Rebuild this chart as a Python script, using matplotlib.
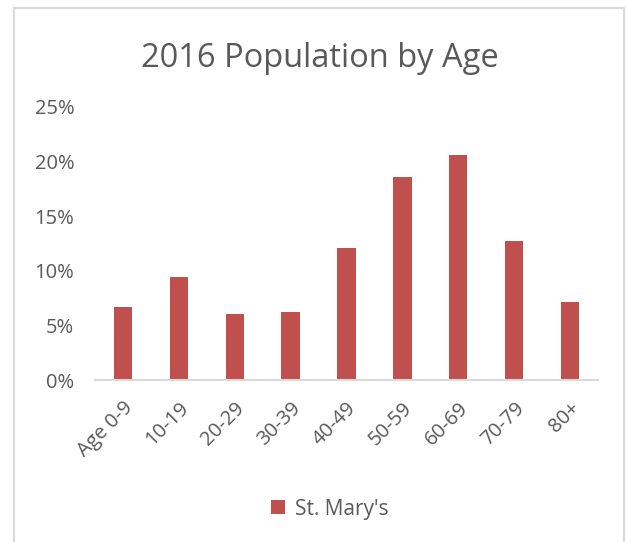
import matplotlib.pyplot as plt
from matplotlib.lines import Line2D
from matplotlib.ticker import PercentFormatter

# values (percent of population)
ages = ['Age 0-9', '10-19', '20-29', '30-39', '40-49', '50-59', '60-69', '70-79', '80+']
st_marys = [6.7, 9.4, 6.0, 6.2, 12.1, 18.6, 20.6, 12.7, 7.1]

bar_color = '#C0504D'
text_color = '#595959'

plt.rcParams['font.family'] = ['Open Sans', 'DejaVu Sans']

fig = plt.figure(figsize=(6.26, 5.42), dpi=100)
ax = fig.add_axes([95 / 626, 1 - 380 / 542, 503 / 626, 273 / 542])

ax.bar(range(len(ages)), st_marys, width=0.33, color=bar_color, label="St. Mary's")

ax.set_ylim(0, 25)
ax.set_xlim(-0.5, len(ages) - 0.5)
ax.set_yticks([0, 5, 10, 15, 20, 25])
ax.yaxis.set_major_formatter(PercentFormatter(decimals=0))
ax.set_xticks(range(len(ages)))
ax.set_xticklabels(ages, rotation=45, ha='right', rotation_mode='anchor')

ax.tick_params(axis='both', length=0, labelsize=14.5, colors=text_color)
ax.tick_params(axis='y', pad=15)
ax.tick_params(axis='x', pad=13)
for s in ['top', 'right', 'left']:
    ax.spines[s].set_visible(False)
ax.spines['bottom'].set_color('#D9D9D9')
ax.spines['bottom'].set_linewidth(1.5)

fig.text(320 / 626, 1 - 67 / 542, '2016 Population by Age', ha='center', va='baseline',
         fontsize=23.5, color=text_color)

fig.legend(loc='center', bbox_to_anchor=(330 / 626, 1 - 509 / 542), frameon=False,
           fontsize=15, labelcolor=text_color, handlelength=0.65, handleheight=0.65,
           handletextpad=0.5)

# chart border (bottom edge is cut off in the reference)
border = '#D9D9D9'
x0, x1 = 14 / 626, 624 / 626
y_top = 1 - 8 / 542
fig.add_artist(Line2D([x0, x0], [0, y_top], color=border, lw=1.5))
fig.add_artist(Line2D([x0, x1], [y_top, y_top], color=border, lw=1.5))
fig.add_artist(Line2D([x1, x1], [0, y_top], color=border, lw=1.5))

fig.savefig('out.png', dpi=100)
